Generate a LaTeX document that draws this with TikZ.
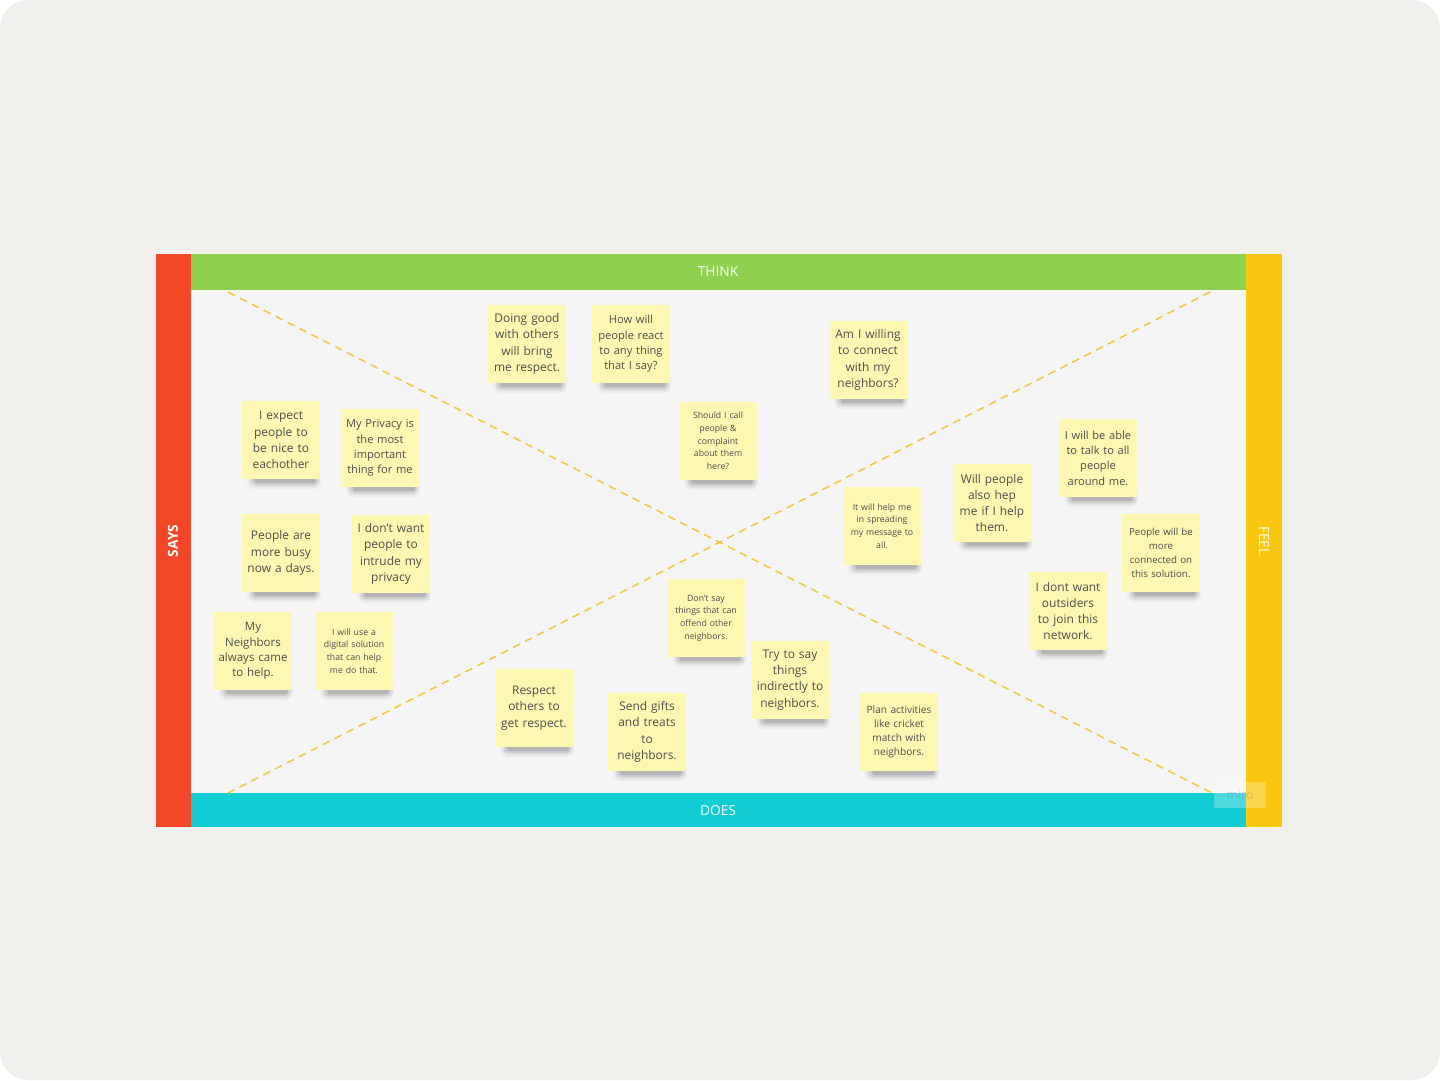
\documentclass[tikz,border=0pt]{standalone}
\usepackage{fontspec}
\setmainfont{Open Sans}
\definecolor{pagebg}{HTML}{F1F0ED}
\definecolor{boardbg}{HTML}{F5F5F5}
\definecolor{saysred}{HTML}{F24726}
\definecolor{thinkgreen}{HTML}{8FD14F}
\definecolor{feelyellow}{HTML}{FAC710}
\definecolor{doescyan}{HTML}{12CDD4}
\definecolor{stickyY}{HTML}{FDF7B2}
\definecolor{notetext}{HTML}{4D4D4D}
\definecolor{diag}{HTML}{F2C744}
\tikzset{
  sticky/.style={fill=stickyY, minimum width=19.5mm, minimum height=19.5mm, inner sep=0pt,
    text width=19.5mm, align=center, text=notetext},
  fbig/.style={font=\fontsize{8.5pt}{11.6pt}\selectfont},
  fmid/.style={font=\fontsize{7.9pt}{10.9pt}\selectfont},
  fmidb/.style={font=\fontsize{8.2pt}{11pt}\selectfont},
  fsml/.style={font=\fontsize{7.2pt}{10pt}\selectfont},
  fsmlb/.style={font=\fontsize{6.9pt}{9.9pt}\selectfont},
  ftiny/.style={font=\fontsize{6.2pt}{9pt}\selectfont},
  header/.style={text=white, font=\fontsize{9.8pt}{12pt}\selectfont},
  diagline/.style={draw=diag, line width=1.1pt, dash pattern=on 5.5pt off 4pt},
}
\newcommand\stickynote[5]{%
  \fill[black, opacity=0.03, rounded corners=5] (#2-34,#3+32) rectangle (#2+40,#3+49);
  \fill[black, opacity=0.05, rounded corners=4] (#2-32,#3+34) rectangle (#2+39,#3+47);
  \fill[black, opacity=0.08, rounded corners=3] (#2-30,#3+36) rectangle (#2+37,#3+45);
  \fill[black, opacity=0.12, rounded corners=2] (#2-27,#3+37) rectangle (#2+35,#3+43);
  \node[sticky,#4] (#1) at (#2,#3) {#5};
}
\begin{document}
\begin{tikzpicture}[x=0.25mm,y=-0.25mm]
\useasboundingbox (0,0) rectangle (1440,1080);
\fill[white] (0,0) rectangle (1440,1080);
\fill[pagebg, rounded corners=20] (0,0) rectangle (1440,1080);
% board
\fill[boardbg] (191,290) rectangle (1246,793);
\fill[saysred] (156,254) rectangle (191,827);
\fill[feelyellow] (1246,254) rectangle (1282,827);
\fill[thinkgreen] (191,254) rectangle (1246,290);
\fill[doescyan] (191,793) rectangle (1246,827);
% diagonals
\coordinate (tl) at (228,292);
\coordinate (br) at (1212,793);
\coordinate (tr) at (1210,292);
\coordinate (bl) at (228,793);
\draw[diagline] (tl) -- (br);
\draw[diagline] (tr) -- (bl);
% headers
\node[header] (think) at (718,272) {THINK};
\node[header] (does) at (718,811) {DOES};
\node[header, font=\bfseries\fontsize{9.8pt}{12pt}\selectfont, rotate=90] (says) at (173,541) {SAYS};
\node[header, rotate=-90] (feel) at (1264,541) {FEEL};
% watermark
\node[fill=white, fill opacity=0.25, text opacity=0.3, text=gray, minimum width=13mm, minimum height=6.5mm, inner sep=0pt, font=\fontsize{9pt}{10pt}\selectfont] (miro) at (1240,795) {miro};
% notes
\stickynote{n1}{527}{344}{fbig}{Doing good\\with others\\will bring\\me respect.}
\stickynote{n2}{631}{344}{fmid}{How will\\people react\\to any thing\\that I say?}
\stickynote{n3}{868}{360}{fbig}{Am I willing\\to connect\\with my\\neighbors?}
\stickynote{n4}{718}{441}{ftiny}{Should I call\\people \&\\complaint\\about them\\here?}
\stickynote{n5}{281}{440}{fbig}{I expect\\people to\\be nice to\\eachother}
\stickynote{n6}{380}{448}{fmid}{My Privacy is\\the most\\important\\thing for me}
\stickynote{n7}{281}{553}{fbig}{People are\\more busy\\now a days.}
\stickynote{n8}{391}{554}{fbig}{I don't want\\people to\\intrude my\\privacy}
\stickynote{n9}{253}{651}{fmidb}{My\\Neighbors\\always came\\to help.}
\stickynote{n10}{354}{651}{ftiny}{I will use a\\digital solution\\that can help\\me do that.}
\stickynote{n11}{706}{618}{ftiny}{Don't say\\things that can\\offend other\\neighbors.}
\stickynote{n12}{790}{680}{fbig}{Try to say\\things\\indirectly to\\neighbors.}
\stickynote{n13}{534}{708}{fbig}{Respect\\others to\\get respect.}
\stickynote{n14}{647}{732}{fbig}{Send gifts\\and treats\\to\\neighbors.}
\stickynote{n15}{899}{732}{fsml}{Plan activities\\like cricket\\match with\\neighbors.}
\stickynote{n16}{882}{526}{ftiny}{It will help me\\in spreading\\my message to\\all.}
\stickynote{n17}{992}{503}{fbig}{Will people\\also hep\\me if I help\\them.}
\stickynote{n18}{1098}{458}{fmid}{I will be able\\to talk to all\\people\\around me.}
\stickynote{n19}{1161}{553}{fsmlb}{People will be\\more\\connected on\\this solution.}
\stickynote{n20}{1068}{611}{fbig}{I dont want\\outsiders\\to join this\\network.}
\end{tikzpicture}
\end{document}
